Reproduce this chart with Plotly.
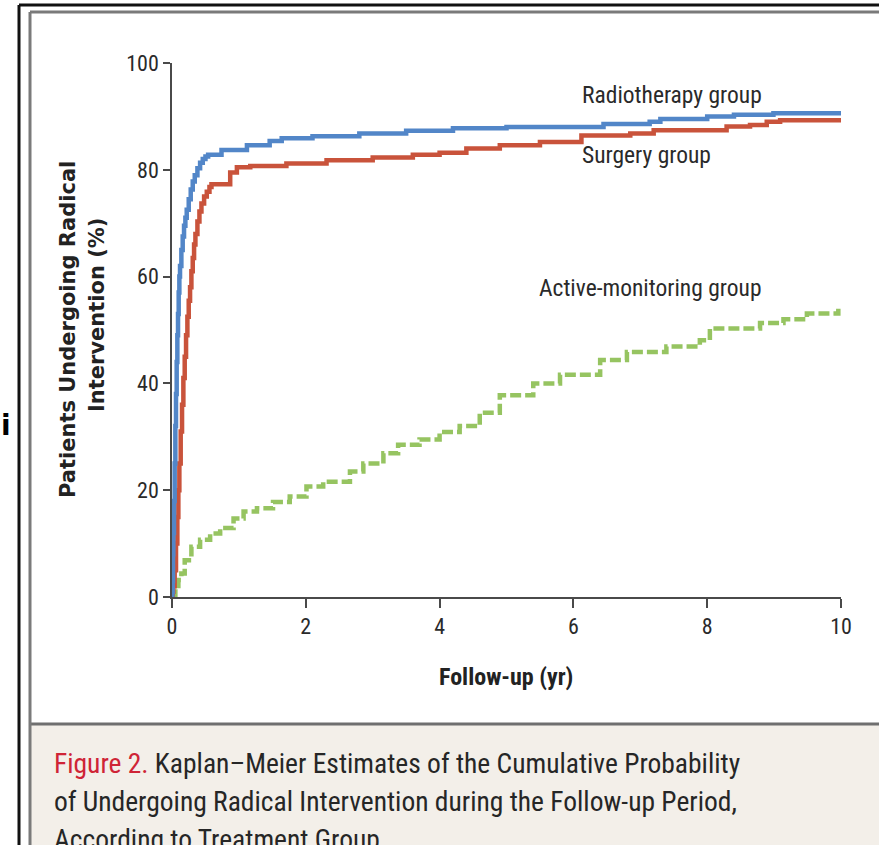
import plotly.graph_objects as go

W, H = 879, 845

# ---- data ----
radio_t = [0, 0.005, 0.01, 0.015, 0.02, 0.03, 0.04, 0.05, 0.06, 0.07, 0.08, 0.09, 0.1, 0.11, 0.12,
           0.14, 0.16, 0.18, 0.2, 0.22, 0.25, 0.28, 0.31, 0.34, 0.38, 0.42, 0.46, 0.5, 0.54,
           0.74, 1.12, 1.46, 1.64, 2.1, 2.8, 3.5, 4.2, 5.0, 6.45, 7.14, 7.3, 8.0, 8.4, 8.99, 10]
radio_v = [0, 1, 3, 8, 12, 18, 25, 32, 38, 44, 49, 53, 57, 60, 62,
           65, 67.5, 69.5, 71, 72.5, 74.5, 76.3, 77.8, 79, 80.3, 81.3, 82, 82.5, 82.8,
           83.7, 84.6, 85.4, 85.9, 86.3, 86.8, 87.3, 87.8, 88, 88.6, 89, 89.5, 90, 90.3, 90.6, 90.6]

surg_t = [0, 0.01, 0.02, 0.04, 0.06, 0.08, 0.095, 0.11, 0.13, 0.15, 0.17, 0.19, 0.21, 0.23, 0.25,
          0.27, 0.29, 0.31, 0.33, 0.35, 0.38, 0.41, 0.44, 0.48, 0.52, 0.56, 0.59,
          0.87, 0.97, 1.17, 1.71, 2.31, 3.0, 3.6, 4.0, 4.4, 4.9, 5.5, 6.12, 6.85, 7.2, 8.29, 8.64, 8.89, 9.09, 10]
surg_v = [0, 1, 2, 5, 10, 15, 20, 25, 31, 36, 41, 45, 49, 52.5, 55.5,
          58, 61, 63.5, 66, 68, 70.3, 72.2, 73.7, 75, 75.9, 76.8, 77.3,
          79.5, 80.5, 80.7, 81.2, 81.8, 82.3, 82.8, 83.2, 84, 84.6, 85.2, 86.4, 86.8, 87.4, 88.1, 88.4, 89, 89.3, 89.4]

active_t = [0, 0.05, 0.095, 0.14, 0.19, 0.29, 0.42, 0.57, 0.72, 0.92, 1.07, 1.27, 1.51, 1.76, 2.01, 2.26, 2.66, 2.86, 3.16, 3.38, 3.7, 4.0, 4.3, 4.6, 4.9, 5.4, 5.8, 6.4, 6.8, 7.39, 7.89, 8.04, 8.79, 9.14, 9.49, 9.96]
active_v = [0, 1.5, 3.2, 4.4, 6.9, 9.4, 10.7, 11.9, 12.9, 14.7, 16, 16.6, 17.8, 18.8, 20.7, 21.6, 23.5, 25, 26.9, 28.5, 29.5, 30.9, 32, 34.5, 37.8, 40, 41.6, 44.4, 45.9, 46.9, 48.1, 50.3, 51.3, 52, 53.1, 54]

x_ticks = [0, 2, 4, 6, 8, 10]
y_ticks = [0, 20, 40, 60, 80, 100]

group_labels = ["Radiotherapy group", "Surgery group", "Active-monitoring group"]

NARROW = "Liberation Sans Narrow, Roboto Condensed, Arial Narrow, DejaVu Sans Condensed, sans-serif"

def px(x):
    return x / W

def py(y):
    return 1 - y / H

fig = go.Figure()
fig.add_trace(go.Scatter(x=active_t, y=active_v, mode="lines", line_shape="hv",
                         line=dict(color="#96c461", width=4.5, dash="11px,4px"),
                         showlegend=False, hoverinfo="skip"))
fig.add_trace(go.Scatter(x=surg_t, y=surg_v, mode="lines", line_shape="hv",
                         line=dict(color="#c9533b", width=4.5),
                         showlegend=False, hoverinfo="skip"))
fig.add_trace(go.Scatter(x=radio_t, y=radio_v, mode="lines", line_shape="hv",
                         line=dict(color="#5286c8", width=4.5),
                         showlegend=False, hoverinfo="skip"))

shapes = [
    # caption panel
    dict(type="rect", xref="paper", yref="paper", x0=px(31), x1=px(W + 5), y0=py(H + 5), y1=py(725),
         fillcolor="#f3efe9", line=dict(width=0), layer="below"),
    dict(type="line", xref="paper", yref="paper", x0=px(31), x1=px(W + 5), y0=py(724), y1=py(724),
         line=dict(color="#6f6f6f", width=3)),
    # outer black frame
    dict(type="line", xref="paper", yref="paper", x0=px(19), x1=px(19), y0=py(H + 5), y1=py(5),
         line=dict(color="#111111", width=3)),
    dict(type="line", xref="paper", yref="paper", x0=px(19), x1=px(W + 5), y0=py(5), y1=py(5),
         line=dict(color="#111111", width=3)),
    # inner gray frame
    dict(type="line", xref="paper", yref="paper", x0=px(30), x1=px(30), y0=py(H + 5), y1=py(12),
         line=dict(color="#7a7a7a", width=3)),
    dict(type="line", xref="paper", yref="paper", x0=px(30), x1=px(W + 5), y0=py(12), y1=py(12),
         line=dict(color="#7a7a7a", width=3)),
]

LBL = dict(family=NARROW, size=23.5, color="#2a2a2a")
CAP = dict(family=NARROW, size=27.5, color="#262626")
YT = dict(family="DejaVu Sans, Verdana, sans-serif", size=21, color="#222222")
TICK = dict(family=NARROW, size=22, color="#2a2a2a")

annotations = [
    dict(x=6.1, y=94, xref="x", yref="y", text=group_labels[0], showarrow=False,
         xanchor="left", yanchor="middle", font=LBL),
    dict(x=6.1, y=82.8, xref="x", yref="y", text=group_labels[1], showarrow=False,
         xanchor="left", yanchor="middle", font=LBL),
    dict(x=5.46, y=57.9, xref="x", yref="y", text=group_labels[2], showarrow=False,
         xanchor="left", yanchor="middle", font=LBL),
    # y-axis title (two lines)
    dict(x=px(68), y=py(330), xref="paper", yref="paper", text="<b>Patients Undergoing Radical</b>",
         textangle=-90, showarrow=False, xanchor="center", yanchor="middle", font=YT),
    dict(x=px(97), y=py(315), xref="paper", yref="paper", text="<b>Intervention (%)</b>",
         textangle=-90, showarrow=False, xanchor="center", yanchor="middle", font=YT),
    # x-axis title
    dict(x=px(506), y=py(677), xref="paper", yref="paper", text="<b>Follow-up (yr)</b>",
         showarrow=False, xanchor="center", yanchor="middle",
         font=dict(family=NARROW, size=24, color="#222222")),
    # caption
    dict(x=px(52), y=py(763), xref="paper", yref="paper",
         text="<span style='color:#cf2436'>Figure 2.</span> Kaplan\u2013Meier Estimates of the Cumulative Probability",
         showarrow=False, xanchor="left", yanchor="middle", font=CAP),
    dict(x=px(52), y=py(801), xref="paper", yref="paper",
         text="of Undergoing Radical Intervention during the Follow-up Period,",
         showarrow=False, xanchor="left", yanchor="middle", font=CAP),
    dict(x=px(52), y=py(839), xref="paper", yref="paper",
         text="According to Treatment Group.",
         showarrow=False, xanchor="left", yanchor="middle", font=CAP),
    # cut-off letter at far left
    dict(x=px(6), y=py(425), xref="paper", yref="paper", text="<b>i</b>",
         showarrow=False, xanchor="center", yanchor="middle",
         font=dict(family="DejaVu Sans, sans-serif", size=28, color="#000000")),
]

fig.update_layout(
    width=W, height=H, autosize=False,
    margin=dict(l=0, r=0, t=0, b=0, pad=0, autoexpand=False),
    paper_bgcolor="white", plot_bgcolor="white",
    shapes=shapes, annotations=annotations,
    xaxis=dict(domain=[px(172), px(841)], range=[0, 10], tickvals=x_ticks,
               ticktext=[str(v) for v in x_ticks], automargin=False,
               showgrid=False, zeroline=False, showline=True, linecolor="#4a4a4a", linewidth=1.5,
               ticks="outside", ticklen=9, tickwidth=1.5, tickcolor="#4a4a4a",
               tickfont=TICK, anchor="y"),
    yaxis=dict(domain=[py(597), py(63)], range=[0, 100], tickvals=y_ticks,
               ticktext=[str(v) for v in y_ticks], automargin=False,
               showgrid=False, zeroline=False, showline=True, linecolor="#4a4a4a", linewidth=1.5,
               ticks="outside", ticklen=7, tickwidth=1.5, tickcolor="#4a4a4a",
               tickfont=TICK, anchor="x"),
)

fig.write_html("out.html", config={"displayModeBar": False},
               post_script="document.body.style.margin='0';document.body.style.overflow='hidden';")
